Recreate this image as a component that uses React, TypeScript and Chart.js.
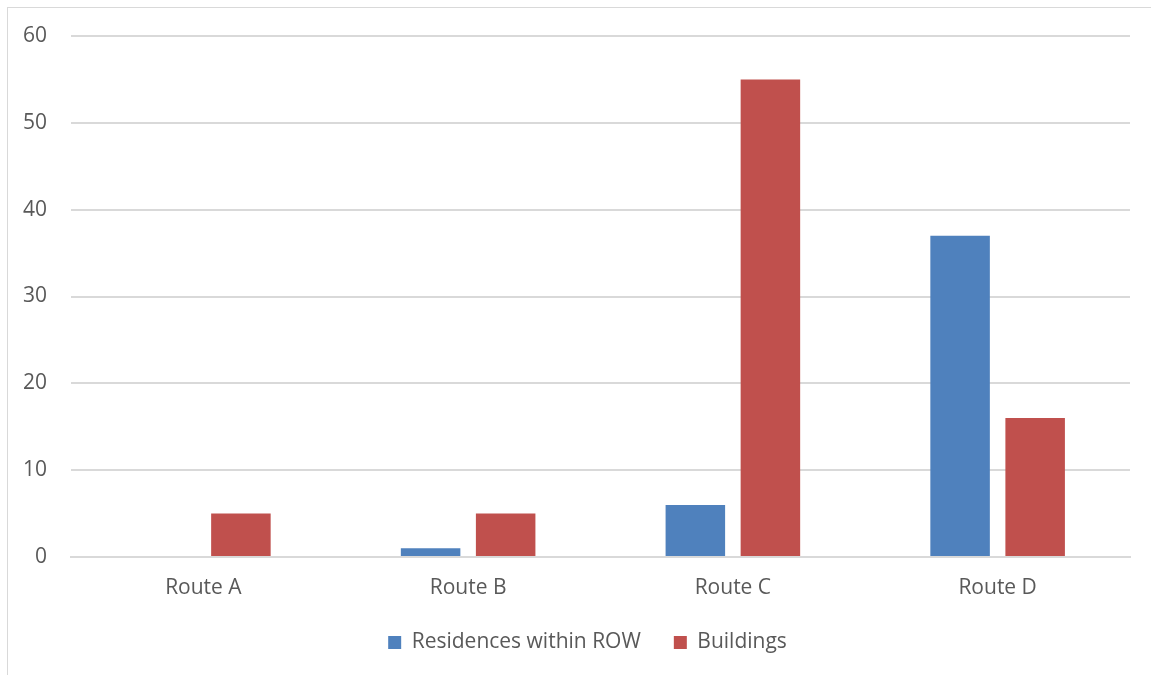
import React, { useEffect, useRef } from "react";
import { Chart, registerables } from "chart.js";

Chart.register(...registerables);

const categories = ["Route A", "Route B", "Route C", "Route D"];
const residences = [0, 1, 6, 37];
const buildings = [5, 5, 55, 16];
const seriesNames = ["Residences within ROW", "Buildings"];
const yTicks = [0, 10, 20, 30, 40, 50, 60];

export default function App() {
  const ref = useRef<HTMLCanvasElement | null>(null);
  useEffect(() => {
    const font = { family: "'Open Sans', sans-serif", size: 21 };
    const legendShift = {
      id: "legendShift",
      afterLayout(chart: any) {
        if (chart.legend) {
          chart.legend.left = 37;
          chart.legend.width = chart.legend.right - chart.legend.left;
        }
      },
    };
    const chart = new Chart(ref.current!, {
      type: "bar",
      data: {
        labels: categories,
        datasets: [
          { label: seriesNames[0], data: residences, backgroundColor: "#4F81BD", categoryPercentage: 0.567, barPercentage: 0.793 },
          { label: seriesNames[1], data: buildings, backgroundColor: "#C0504D", categoryPercentage: 0.567, barPercentage: 0.793 },
        ],
      },
      plugins: [legendShift],
      options: {
        animation: false,
        responsive: false,
        maintainAspectRatio: false,
        layout: { padding: { top: 28, right: 21, bottom: 45, left: 0 } },
        plugins: {
          tooltip: { enabled: false },
          legend: {
            position: "bottom",
            labels: { font, color: "#595959", boxWidth: 13, boxHeight: 13, padding: 33 },
          },
        },
        scales: {
          x: {
            afterFit: (s: any) => { s.height = 42; s.paddingLeft = 0; s.paddingRight = 0; },
            grid: { display: false, drawTicks: false },
            border: { display: true, color: "#D9D9D9", width: 2 },
            ticks: { font, color: "#595959", padding: 18 },
          },
          y: {
            min: 0,
            max: 60,
            afterFit: (s: any) => { s.width = 63; s.paddingTop = 0; s.paddingBottom = 0; },
            afterBuildTicks: (s: any) => { s.ticks = yTicks.map((v) => ({ value: v })); },
            grid: { color: "#D9D9D9", lineWidth: 2, drawTicks: false },
            border: { display: false },
            ticks: { font, color: "#595959", padding: 24 },
          },
        },
      },
    });
    return () => chart.destroy();
  }, []);
  return (
    <div style={{ position: "absolute", left: 7, top: 7, width: 1144, height: 668, overflow: "hidden", borderLeft: "1px solid #D9D9D9", borderTop: "1px solid #D9D9D9", background: "#fff" }}>
      <canvas ref={ref} width={1143} height={700} style={{ display: "block" }} />
    </div>
  );
}
